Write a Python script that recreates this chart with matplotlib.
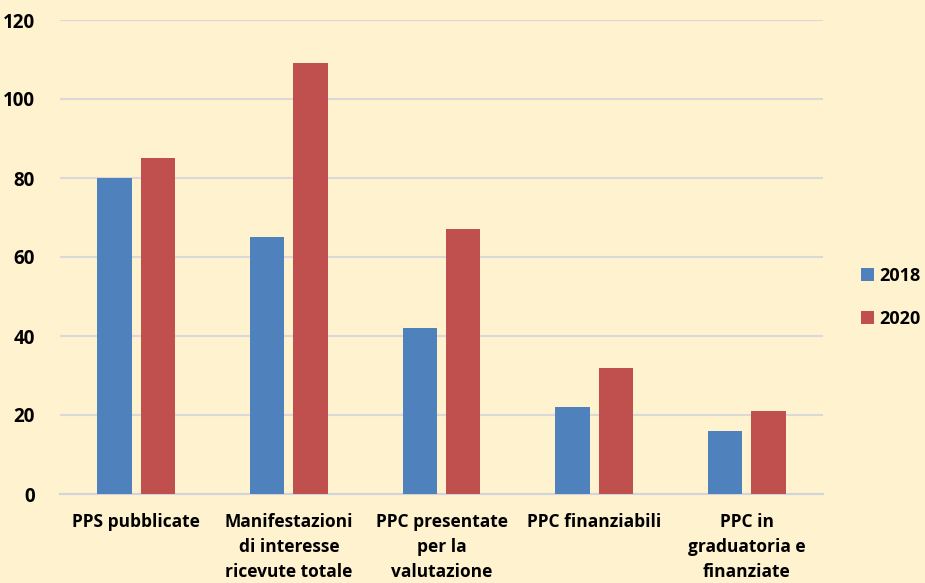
import numpy as np
import matplotlib.pyplot as plt

# dati
categorie = ['PPS pubblicate', 'Manifestazioni\ndi interesse\nricevute totale',
             'PPC presentate\nper la\nvalutazione', 'PPC finanziabili',
             'PPC in\ngraduatoria e\nfinanziate']
valori_2018 = [80, 65, 42, 22, 16]
valori_2020 = [85, 109, 67, 32, 21]
anni = ['2018', '2020']

sfondo = '#FFF2CF'
blu = '#4F81BD'
rosso = '#C0504D'

plt.rcParams['font.family'] = ['Open Sans', 'DejaVu Sans']
plt.rcParams['font.weight'] = 'bold'

fig = plt.figure(figsize=(9.25, 5.83), dpi=100, facecolor=sfondo)
ax = fig.add_axes([60 / 925, 89 / 583, 763 / 925, 474 / 583])
ax.set_facecolor(sfondo)

x = np.arange(len(categorie))
larg = 0.225
sep = 0.03
ax.bar(x - larg / 2 - sep, valori_2018, larg, color=blu, label=anni[0], zorder=3)
ax.bar(x + larg / 2 + sep, valori_2020, larg, color=rosso, label=anni[1], zorder=3)

ax.set_xlim(-0.5, len(categorie) - 0.5)
ax.set_ylim(0, 120)
ax.set_yticks(range(0, 121, 20))
ax.grid(axis='y', color='#D9D9D9', linewidth=1.5, zorder=0)
for s in ['top', 'right', 'left']:
    ax.spines[s].set_visible(False)
ax.spines['bottom'].set_color('#D0D4DC')
ax.spines['bottom'].set_linewidth(1.5)
ax.tick_params(axis='both', length=0)
ax.tick_params(axis='y', pad=18, labelsize=13.5)
ax.tick_params(axis='x', pad=14, labelsize=12.5)
ax.set_xticks(x)
ax.set_xticklabels(categorie, fontweight='bold', linespacing=1.5)
for t in ax.get_yticklabels():
    t.set_fontweight('bold')

ax.legend(loc='center left', bbox_to_anchor=(1.028, 0.415), frameon=False,
          handlelength=0.75, handleheight=0.75,
          handletextpad=0.3, labelspacing=1.4,
          prop={'weight': 'bold', 'size': 13})

fig.savefig('out.png', dpi=100, facecolor=sfondo)
